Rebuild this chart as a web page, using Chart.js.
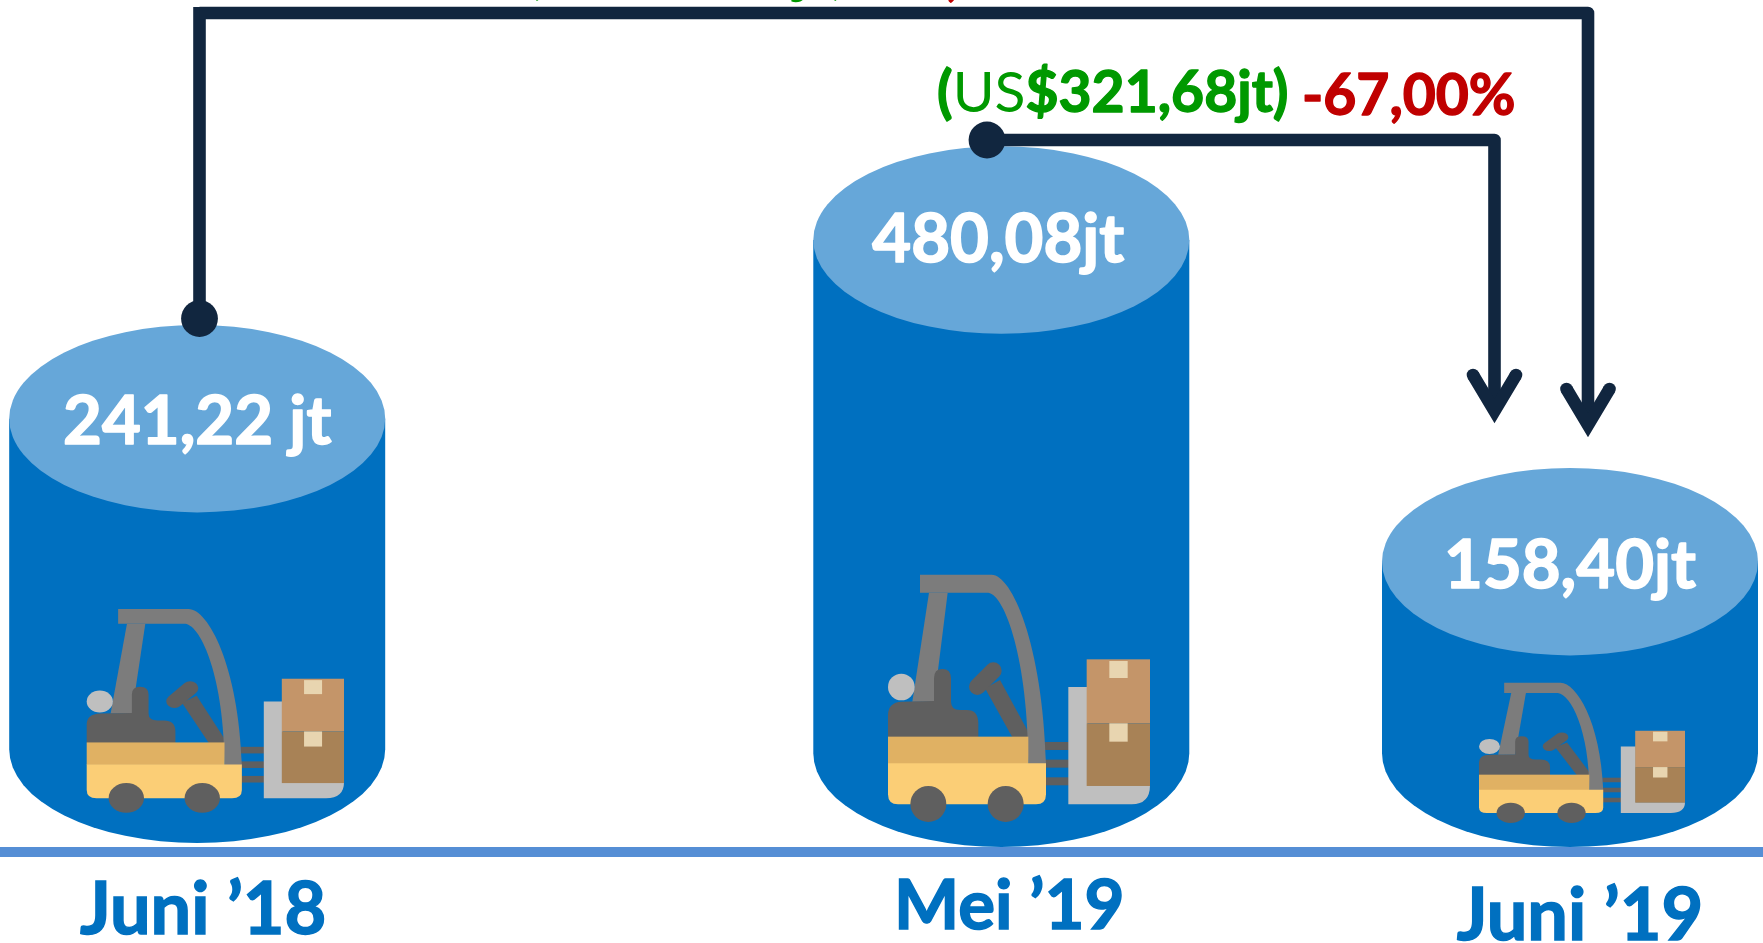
<!DOCTYPE html>
<html>
<head>
<meta charset="utf-8">
<style>html,body{margin:0;padding:0;background:#fff}canvas{display:block}</style>
<script src="https://cdn.jsdelivr.net/npm/chart.js@4"></script>
</head>
<body>
<canvas id="c" width="1763" height="943"></canvas>
<script>
// ---- data ----
const categories = ['Juni \u201918', 'Mei \u201919', 'Juni \u201919'];
const values = [241.22, 480.08, 158.40];
const valueLabels = ['241,22 jt', '480,08jt', '158,40jt'];
const mayChange = ['(', 'US', '$321,68jt)', '-67,00%'];
const yearChange = ['(', 'US', '$82,82jt)', '-34,33%'];

// ---- layout (the picture is an infographic: spacing and heights are not proportional) ----
const slotFractions = [197.2 / 1763, 1001.3 / 1763, 1570 / 1763];
const valueStops = [0, 158.40, 241.22, 480.08, 500];
const pixelStops = [847, 561.7, 418.7, 240, 225];
const baseLift = [4, 0, 0];
const labelShift = [6, 8, 10];
const labelBaselines = [934, 929, 940];
const labelSizes = [72, 69, 72];
const valueTextDrop = [25.6, 22, 26];
const valueTextShift = [0, -3, 0];
const iconBoxes = [[-110.5, 257.3, 30, 204], [-113.3, 262, 24.7, 247.6], [-91, 206, 23.7, 140.6]];
const FONT = 'Lato';
const NAVY = '#11263F', BODY = '#0070C0', CAP = '#66A7D9', AXIS = '#558ED5', GREEN = '#009900', RED = '#C00000';

class SlottedCategoryScale extends Chart.CategoryScale {
  static id = 'slottedCategory';
  static defaults = Chart.CategoryScale.defaults;
  getPixelForValue(v) {
    if (v === null || v === undefined) return NaN;
    return this.left + slotFractions[+v] * this.width;
  }
  getPixelForTick(i) {
    return this.getPixelForValue(this.ticks[i].value);
  }
  _computeLabelItems(area) {
    const items = super._computeLabelItems(area);
    items.forEach((it, i) => {
      it.options.translation = [it.options.translation[0] + labelShift[i], labelBaselines[i]];
      it.options.textBaseline = 'alphabetic';
      it.textOffset = 0;
    });
    return items;
  }
}
class SteppedLinearScale extends Chart.LinearScale {
  static id = 'steppedLinear';
  static defaults = Chart.LinearScale.defaults;
  getPixelForValue(v) {
    for (let i = 1; i < valueStops.length; i++) {
      if (v <= valueStops[i]) {
        const t = (v - valueStops[i - 1]) / (valueStops[i] - valueStops[i - 1]);
        return pixelStops[i - 1] + t * (pixelStops[i] - pixelStops[i - 1]);
      }
    }
    return pixelStops[pixelStops.length - 1];
  }
}
Chart.register(SlottedCategoryScale, SteppedLinearScale);

function drawForklift(ctx, x, y, w, h) {
  ctx.save();
  ctx.translate(x, y);
  ctx.scale(w / 786, h / 743);
  ctx.translate(-84, -44);
  const rect = (c, a, b, cc, d) => { ctx.fillStyle = c; ctx.fillRect(a, b, cc - a, d - b); };
  // fork tines
  rect('#5F5F5F', 555, 546, 627, 570);
  rect('#5F5F5F', 555, 599, 627, 623);
  rect('#5F5F5F', 555, 652, 627, 676);
  // mast post
  ctx.fillStyle = '#7C7C7C';
  ctx.beginPath(); ctx.moveTo(207, 98); ctx.lineTo(263, 98); ctx.lineTo(222, 425); ctx.lineTo(157, 425); ctx.closePath(); ctx.fill();
  // head
  ctx.fillStyle = '#BFBFBF';
  ctx.beginPath(); ctx.arc(124, 381, 40, 0, Math.PI * 2); ctx.fill();
  // seat / driver block
  ctx.fillStyle = '#5F5F5F';
  ctx.beginPath();
  ctx.moveTo(84, 532); ctx.lineTo(84, 465); ctx.quadraticCurveTo(84, 427, 125, 425);
  ctx.lineTo(222, 423); ctx.lineTo(222, 355); ctx.quadraticCurveTo(222, 327, 247, 327);
  ctx.quadraticCurveTo(273, 327, 273, 355); ctx.lineTo(273, 425); ctx.quadraticCurveTo(273, 450, 300, 450);
  ctx.lineTo(320, 450); ctx.quadraticCurveTo(355, 450, 355, 490); ctx.lineTo(355, 532); ctx.closePath(); ctx.fill();
  // steering column and wheel
  ctx.beginPath(); ctx.moveTo(375, 385); ctx.lineTo(420, 360); ctx.lineTo(507, 520); ctx.lineTo(507, 532); ctx.lineTo(457, 532); ctx.closePath(); ctx.fill();
  ctx.strokeStyle = '#5F5F5F'; ctx.lineWidth = 50; ctx.lineCap = 'round';
  ctx.beginPath(); ctx.moveTo(352, 380); ctx.lineTo(400, 332); ctx.stroke();
  // mast arch
  ctx.fillStyle = '#7C7C7C';
  ctx.beginPath();
  ctx.moveTo(180, 44); ctx.lineTo(395, 44);
  ctx.bezierCurveTo(455, 44, 548, 250, 558, 612);
  ctx.lineTo(505, 612);
  ctx.bezierCurveTo(505, 300, 435, 105, 385, 98);
  ctx.lineTo(180, 98); ctx.closePath(); ctx.fill();
  // body
  rect('#E0B163', 84, 530, 505, 612);
  ctx.fillStyle = '#FBCE76';
  ctx.beginPath();
  ctx.moveTo(84, 610); ctx.lineTo(558, 610); ctx.lineTo(558, 703); ctx.quadraticCurveTo(558, 733, 528, 733);
  ctx.lineTo(114, 733); ctx.quadraticCurveTo(84, 733, 84, 703); ctx.closePath(); ctx.fill();
  // wheels
  ctx.fillStyle = '#5F5F5F';
  ctx.beginPath(); ctx.arc(205, 732, 54, 0, Math.PI * 2); ctx.fill();
  ctx.beginPath(); ctx.arc(437, 732, 54, 0, Math.PI * 2); ctx.fill();
  // carriage
  ctx.fillStyle = '#BFBFBF';
  ctx.beginPath();
  ctx.moveTo(625, 381); ctx.lineTo(682, 381); ctx.lineTo(682, 676); ctx.lineTo(870, 676);
  ctx.quadraticCurveTo(870, 733, 815, 733); ctx.lineTo(625, 733); ctx.closePath(); ctx.fill();
  // boxes
  rect('#C49569', 680, 298, 870, 490);
  rect('#A88256', 680, 490, 870, 678);
  rect('#E8D5B0', 748, 303, 803, 354);
  rect('#E8D5B0', 748, 490, 803, 545);
  ctx.restore();
}

function heavyText(ctx, text, x, y, width) {
  ctx.lineJoin = 'round';
  ctx.lineWidth = width;
  ctx.strokeStyle = ctx.fillStyle;
  ctx.strokeText(text, x, y);
  ctx.fillText(text, x, y);
}
function drawRuns(ctx, x, baseline, runs) {
  let cx = x;
  runs.forEach(r => {
    ctx.font = r.weight + ' ' + r.size + 'px ' + FONT;
    ctx.fillStyle = r.color;
    const px = cx + (r.gap || 0), py = baseline + (r.drop || 0);
    if (r.weight >= 700) heavyText(ctx, r.text, px, py, 1.4);
    else ctx.fillText(r.text, px, py);
    cx = px + ctx.measureText(r.text).width;
  });
}
function changeRuns(parts, gap) {
  return [
    { text: parts[0], weight: 700, size: 57, color: GREEN },
    { text: parts[1], weight: 400, size: 57, color: GREEN },
    { text: parts[2], weight: 700, size: 57, color: GREEN },
    { text: parts[3], weight: 700, size: 57, color: RED, gap: gap, drop: 3 }
  ];
}

function arrowHead(ctx, x, vy) {
  ctx.beginPath();
  ctx.moveTo(x - 21.5, vy - 36);
  ctx.lineTo(x, vy);
  ctx.lineTo(x + 21.5, vy - 36);
  ctx.stroke();
}

const cylinderPlugin = {
  id: 'cylinders',
  beforeDatasetDraw() { return false; },
  afterDatasetsDraw(chart) {
    const ctx = chart.ctx;
    const els = chart.getDatasetMeta(0).data;
    const ry = 93.7;
    ctx.save();
    els.forEach((el, i) => {
      const rx = el.width / 2;
      const bottom = el.base - baseLift[i];
      // side and bottom
      ctx.fillStyle = BODY;
      ctx.beginPath();
      ctx.moveTo(el.x - rx, el.y);
      ctx.lineTo(el.x - rx, bottom - ry);
      ctx.ellipse(el.x, bottom - ry, rx, ry, 0, Math.PI, 0, true);
      ctx.lineTo(el.x + rx, el.y);
      ctx.closePath();
      ctx.fill();
      // cap
      ctx.fillStyle = CAP;
      ctx.beginPath();
      ctx.ellipse(el.x, el.y, rx, ry, 0, 0, Math.PI * 2);
      ctx.fill();
      // value
      ctx.fillStyle = '#fff';
      ctx.font = '700 67px ' + FONT;
      ctx.textAlign = 'center';
      ctx.textBaseline = 'alphabetic';
      heavyText(ctx, valueLabels[i], el.x + valueTextShift[i], el.y + valueTextDrop[i], 1.6);
      // icon
      const b = iconBoxes[i];
      drawForklift(ctx, el.x + b[0], bottom - b[2] - b[3], b[1], b[3]);
    });
    // annotations
    ctx.textAlign = 'left';
    drawRuns(ctx, 527, -9, changeRuns(yearChange, 13.5));
    drawRuns(ctx, 937, 112, changeRuns(mayChange, 13.5));
    // connectors
    ctx.strokeStyle = NAVY; ctx.fillStyle = NAVY; ctx.lineWidth = 12.6;
    const d1x = els[0].x + 2.3, d1y = els[0].y - ry - 6.4;
    const d2x = els[1].x - 14.3, d2y = els[1].y - ry - 6.3;
    const a1x = els[2].x - 75.5, a1y = els[2].y - 150.7;
    const a2x = els[2].x + 18, a2y = els[2].y - 136.7;
    const topY = 13;
    ctx.lineCap = 'butt'; ctx.lineJoin = 'round';
    ctx.beginPath(); ctx.moveTo(d1x, topY - 6); ctx.lineTo(d1x, d1y); ctx.stroke();
    ctx.beginPath(); ctx.moveTo(d1x, topY); ctx.lineTo(a2x, topY); ctx.lineTo(a2x, a2y); ctx.stroke();
    ctx.beginPath(); ctx.moveTo(d2x, d2y); ctx.lineTo(a1x, d2y); ctx.lineTo(a1x, a1y); ctx.stroke();
    ctx.beginPath(); ctx.arc(d1x, d1y, 18.4, 0, Math.PI * 2); ctx.fill();
    ctx.beginPath(); ctx.arc(d2x, d2y, 18.4, 0, Math.PI * 2); ctx.fill();
    ctx.lineJoin = 'miter'; ctx.miterLimit = 10;
    ctx.lineCap = 'butt';
    [[a1x, a1y], [a2x, a2y]].forEach(p => {
      arrowHead(ctx, p[0], p[1]);
      ctx.beginPath(); ctx.arc(p[0] - 21.5, p[1] - 36, 6.3, 0, Math.PI * 2); ctx.fill();
      ctx.beginPath(); ctx.arc(p[0] + 21.5, p[1] - 36, 6.3, 0, Math.PI * 2); ctx.fill();
    });
    ctx.restore();
  }
};

new Chart(document.getElementById('c'), {
  type: 'bar',
  data: {
    labels: categories,
    datasets: [{ data: values, backgroundColor: BODY, barThickness: 376 }]
  },
  plugins: [cylinderPlugin],
  options: {
    responsive: false,
    animation: false,
    layout: { padding: 0 },
    plugins: { legend: { display: false }, tooltip: { enabled: false }, title: { display: false } },
    scales: {
      x: {
        type: 'slottedCategory',
        afterFit(s) { s.height = 91; },
        grid: { display: false, drawTicks: false },
        border: { display: true, color: AXIS, width: 10 },
        ticks: {
          maxRotation: 0, autoSkip: false, color: BODY,
          textStrokeColor: BODY, textStrokeWidth: 1.5,
          font: c => ({ family: FONT, weight: 700, size: labelSizes[c.index] })
        }
      },
      y: { type: 'steppedLinear', display: false, min: 0, max: 500 }
    }
  }
});
</script>
</body>
</html>
